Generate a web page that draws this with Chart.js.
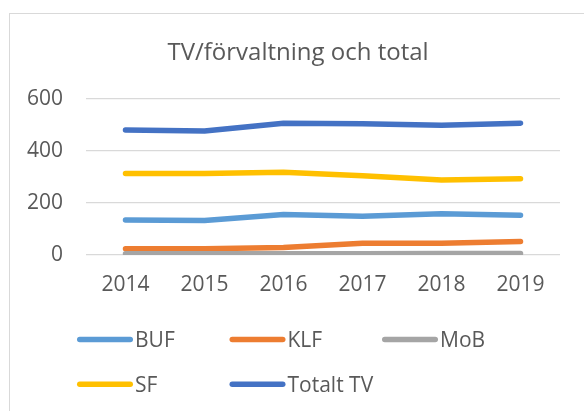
<!DOCTYPE html>
<html><head><meta charset="utf-8">
<script src="https://cdn.jsdelivr.net/npm/chart.js@4.4.1/dist/chart.umd.min.js"></script>
<style>
html,body{margin:0;padding:0;background:#fff;overflow:hidden;width:584px;height:411px;}
#frame{position:absolute;left:9px;top:13px;width:700px;height:500px;border:1.5px solid #d9d9d9;}
#wrap{position:absolute;left:0;top:0;width:584px;height:411px;}
</style></head><body>
<div id="frame"></div>
<div id="wrap"><canvas id="c" width="584" height="411"></canvas></div>
<script>
const categories = ['2014','2015','2016','2017','2018','2019'];
const seriesNames = ['BUF','KLF','MoB','SF','Totalt TV'];
const buf = [135,133,156,149,159,153];
const klf = [24,24,29,45,45,52];
const mob = [5,5,5,5,6,6];
const sf = [313,313,318,305,288,293];
const totalt = [481,477,507,505,499,507];
const yTicks = [0,200,400,600];
const colors = ['#5B9BD5','#ED7D31','#A5A5A5','#FFC000','#4472C4'];
const titleText = 'TV/förvaltning och total';

const FONT = '"Open Sans", sans-serif';
const TEXT = '#595959';

// Title centred over the chart frame (frame starts at x=9, ~578 px wide)
const frameTitle = {
  id: 'frameTitle',
  afterDraw(chart) {
    const ctx = chart.ctx;
    ctx.save();
    ctx.font = '24px ' + FONT;
    ctx.fillStyle = TEXT;
    ctx.textAlign = 'center';
    ctx.textBaseline = 'alphabetic';
    ctx.fillText(titleText, 298, 59.7);
    ctx.restore();
  }
};

const gridLegend = {
  id: 'gridLegend',
  afterDraw(chart) {
    const ctx = chart.ctx;
    const ds = chart.data.datasets;
    const cols = 3, colW = 152.5, x0 = 77, rowY = [339.5, 384.3], lineLen = 56;
    ctx.save();
    ctx.font = '21px ' + FONT;
    ctx.textBaseline = 'alphabetic';
    ctx.textAlign = 'left';
    ds.forEach((d, i) => {
      const c = i % cols, r = Math.floor(i / cols);
      const x = x0 + c * colW, y = rowY[r];
      ctx.strokeStyle = d.borderColor;
      ctx.lineWidth = 5.5;
      ctx.lineCap = 'round';
      ctx.beginPath();
      ctx.moveTo(x + 2.75, y);
      ctx.lineTo(x + lineLen - 2.75, y);
      ctx.stroke();
      ctx.fillStyle = TEXT;
      ctx.fillText(d.label, x + 58, y + 7.6);
    });
    ctx.restore();
  }
};

const seriesData = [buf, klf, mob, sf, totalt];
const datasets = seriesNames.map((name, i) => ({
  label: name,
  data: seriesData[i],
  borderColor: colors[i],
  backgroundColor: colors[i],
  borderWidth: 5.5,
  borderCapStyle: 'round',
  borderJoinStyle: 'round',
  pointRadius: 0,
  pointHoverRadius: 0,
  tension: 0,
  fill: false,
  order: seriesNames.length - i
}));

new Chart(document.getElementById('c'), {
  type: 'line',
  data: { labels: categories, datasets },
  plugins: [frameTitle, gridLegend],
  options: {
    responsive: false,
    animation: false,
    devicePixelRatio: 1,
    layout: { padding: { left: 0, right: 24, top: 99, bottom: 106 } },
    plugins: {
      legend: { display: false },
      tooltip: { enabled: false },
      title: { display: false }
    },
    scales: {
      x: {
        offset: true,
        grid: { display: false, drawTicks: false },
        border: { display: false },
        ticks: { color: TEXT, font: { family: FONT, size: 21 }, padding: 17, maxRotation: 0, autoSkip: false },
        afterFit(s) { s.height = 50; }
      },
      y: {
        min: yTicks[0],
        max: yTicks[yTicks.length - 1],
        afterBuildTicks(s) { s.ticks = yTicks.map(v => ({ value: v })); },
        grid: { color: '#d9d9d9', lineWidth: 1.3, drawTicks: false },
        border: { display: false },
        ticks: { color: TEXT, font: { family: FONT, size: 21 }, padding: 23 },
        afterFit(s) { s.width = 86; }
      }
    }
  }
});
</script>
</body></html>
